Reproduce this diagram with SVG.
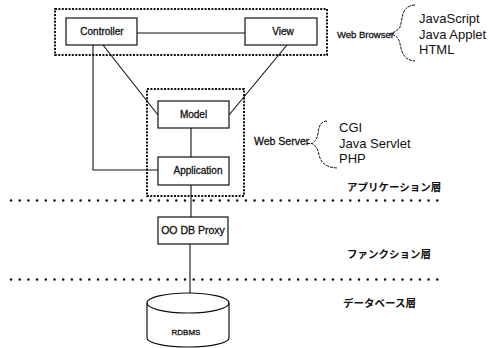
<svg xmlns="http://www.w3.org/2000/svg" width="489" height="348" viewBox="0 0 489 348">
  <style>
    .box { fill: #fff; stroke: #111; stroke-width: 1.2; }
    .line { fill: none; stroke: #111; stroke-width: 1.1; }
    .group { fill: none; stroke: #111; stroke-width: 2; stroke-dasharray: 2 1.4; }
    .layer { fill: none; stroke: #111; stroke-width: 2.6; stroke-linecap: round; stroke-dasharray: 0 8.7; }
    .brace { fill: none; stroke: #111; stroke-width: 1; stroke-dasharray: 3 1; }
    .lbl { font-family: "Liberation Sans", Arial, sans-serif; font-size: 10px; fill: #111; stroke: #111; stroke-width: 0.3; text-anchor: middle; }
    .side { font-family: "Liberation Sans", Arial, sans-serif; font-size: 9.5px; fill: #111; stroke: #111; stroke-width: 0.3; }
    .tech { font-family: "Liberation Sans", Arial, sans-serif; font-size: 13px; fill: #111; }
    .jp { font-family: "Noto Sans CJK JP", sans-serif; font-size: 10.5px; font-weight: bold; fill: #111; }
  </style>
  <rect width="489" height="348" fill="#fff"/>

  <!-- layer separators -->
  <line class="layer" x1="11" y1="200.5" x2="440" y2="200.5"/>
  <line class="layer" x1="11" y1="279.5" x2="440" y2="279.5"/>

  <!-- tier groupings -->
  <rect class="group" x="55" y="9" width="272" height="46"/>
  <rect class="group" x="147" y="89" width="97" height="107"/>

  <g id="connectors">
    <line class="line" x1="137" y1="33" x2="245" y2="33"/>
    <polyline class="line" points="93,45 93,170 158,170"/>
    <line class="line" x1="103" y1="45" x2="158" y2="115"/>
    <line class="line" x1="287" y1="45" x2="229" y2="115"/>
    <line class="line" x1="191" y1="128" x2="191" y2="157"/>
    <line class="line" x1="191" y1="185" x2="191" y2="217"/>
    <line class="line" x1="190" y1="244" x2="190" y2="293"/>
  </g>

  <g id="controller">
    <rect class="box" x="66" y="18" width="71" height="27"/>
    <text class="lbl" x="102" y="35">Controller</text>
  </g>
  <g id="view">
    <rect class="box" x="245" y="18" width="72" height="27"/>
    <text class="lbl" x="283" y="35">View</text>
  </g>
  <g id="model">
    <rect class="box" x="158" y="101" width="71" height="27"/>
    <text class="lbl" x="193.5" y="118">Model</text>
  </g>
  <g id="application">
    <rect class="box" x="158" y="157" width="71" height="28"/>
    <text class="lbl" x="198" y="174">Application</text>
  </g>
  <g id="proxy">
    <rect class="box" x="158" y="217" width="70" height="27"/>
    <text class="lbl" x="193" y="234" style="font-size:10.5px">OO DB Proxy</text>
  </g>
  <g id="rdbms">
    <path class="box" d="M147,303 L147,338 A41,9 0 0 0 229,338 L229,303"/>
    <ellipse class="box" cx="188" cy="303" rx="41" ry="10"/>
    <text class="lbl" x="186" y="335" style="font-size:8px">RDBMS</text>
  </g>

  <g id="web-browser">
    <text class="side" x="337" y="38">Web Browser</text>
    <path class="brace" d="M415,5 C400,6 403,20 400,27 C398,31 394,32 390,34 C396,35 399,38 400,44 C402,52 403,60 415,61"/>
    <text class="tech" x="419" y="23">JavaScript</text>
    <text class="tech" x="419" y="38.5">Java Applet</text>
    <text class="tech" x="419" y="54">HTML</text>
  </g>

  <g id="web-server">
    <text class="side" x="254" y="144.5" style="font-size:10.5px">Web Server</text>
    <line class="brace" x1="307" y1="143.5" x2="312" y2="143.5"/>
    <path class="brace" d="M327,121 C316,122 320,134 316,139 C315,142 313,143 312,143.5 C314,145 317,147 318,151 C320,160 322,167 337,168"/>
    <text class="tech" x="339" y="132">CGI</text>
    <text class="tech" x="339" y="148">Java Servlet</text>
    <text class="tech" x="339" y="163">PHP</text>
  </g>

  <g id="layers">
    <text class="jp" x="347" y="191">アプリケーション層</text>
    <text class="jp" x="347" y="258">ファンクション層</text>
    <text class="jp" x="343" y="307">データベース層</text>
  </g>
</svg>
